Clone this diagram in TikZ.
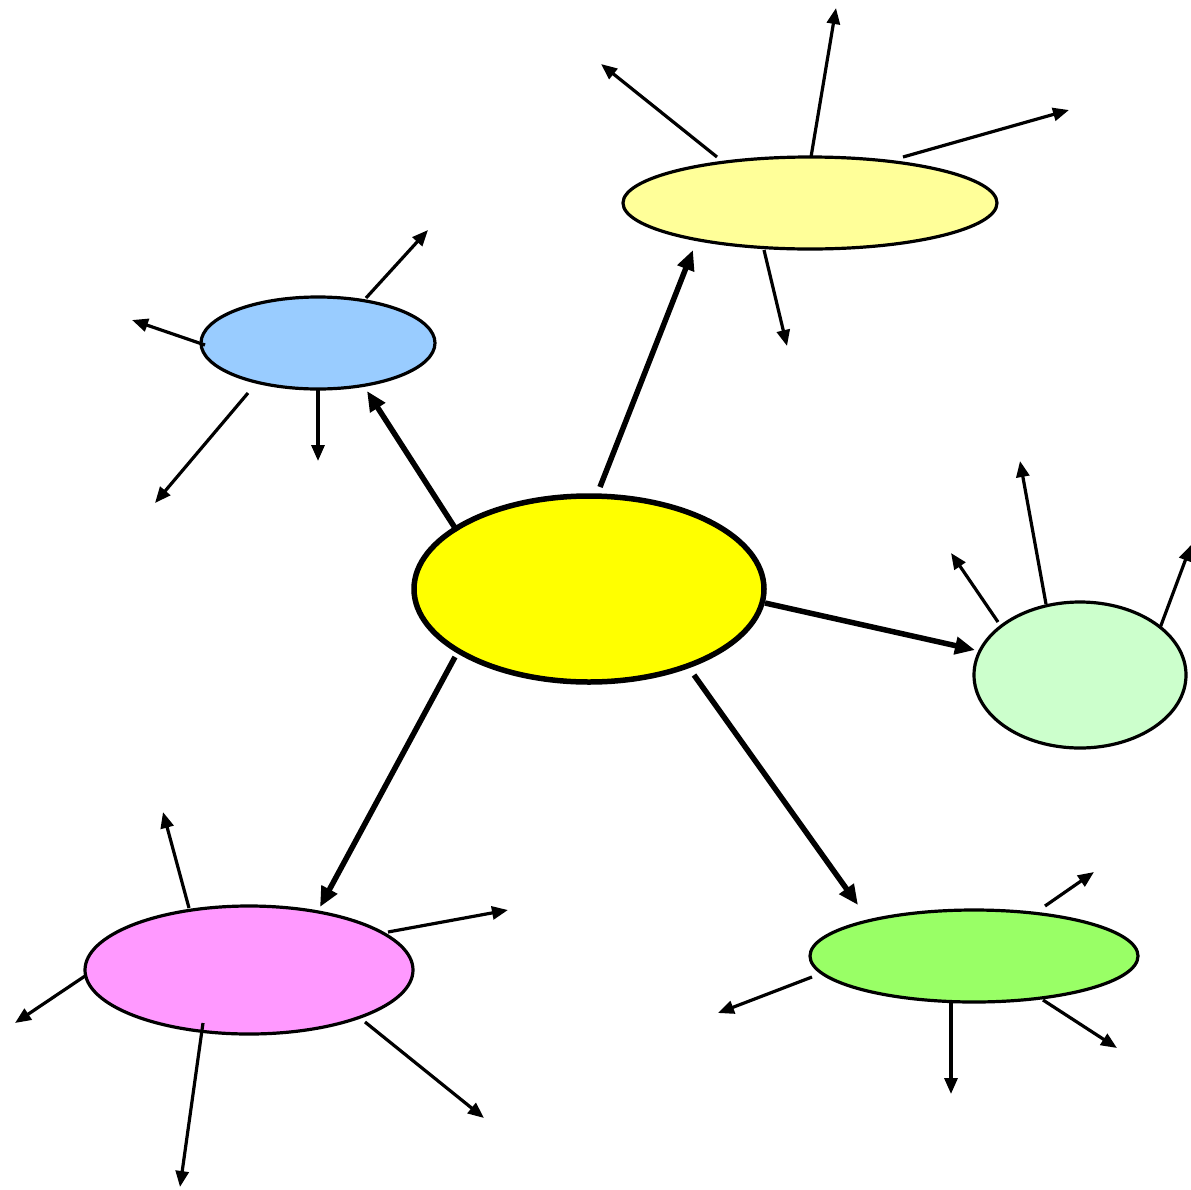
\documentclass[tikz,border=0pt]{standalone}
\usetikzlibrary{shapes.geometric,arrows.meta,calc}
\definecolor{cyel}{HTML}{FFFF00}
\definecolor{lyel}{HTML}{FFFF99}
\definecolor{lblue}{HTML}{99CCFF}
\definecolor{lgreen}{HTML}{CCFFCC}
\definecolor{lpink}{HTML}{FF99FF}
\definecolor{mgreen}{HTML}{99FF66}
\tikzset{
  bubble/.style={ellipse, draw=black, line width=3.2pt, inner sep=0pt},
  bigarrow/.style={line width=5.5pt, -{Triangle[length=20pt,width=17pt]}},
  smallarrow/.style={line width=3.2pt, -{Triangle[length=16pt,width=13pt]}},
}
\begin{document}
\begin{tikzpicture}[x=1pt,y=-1pt]
\useasboundingbox (0,0) rectangle (1191,1189);
\clip (0,0) rectangle (1191,1189);
\fill[white] (0,0) rectangle (1191,1189);
% nodes
\node[bubble, line width=5.5pt, fill=cyel, minimum width=350pt, minimum height=186pt] (c) at (589,589) {};
\node[bubble, fill=lyel, minimum width=374pt, minimum height=92pt] (y) at (810,203) {};
\node[bubble, fill=lblue, minimum width=234pt, minimum height=92pt] (b) at (318,343) {};
\node[bubble, fill=lgreen, minimum width=212pt, minimum height=146pt] (g) at (1080,675) {};
\node[bubble, fill=lpink, minimum width=328pt, minimum height=128pt] (p) at (249,970) {};
\node[bubble, fill=mgreen, minimum width=328pt, minimum height=92pt] (n) at (974,956) {};
% free ends
\coordinate (y1) at (601,64);
\coordinate (y2) at (836,8);
\coordinate (y3) at (1069,110);
\coordinate (y4) at (787,346);
\coordinate (b1) at (428,230);
\coordinate (b2) at (132,320);
\coordinate (b3) at (155,503);
\coordinate (b4) at (318,461);
\coordinate (g1) at (951,553);
\coordinate (g2) at (1020,461);
\coordinate (g3) at (1191,545);
\coordinate (p1) at (163,812);
\coordinate (p2) at (508,910);
\coordinate (p3) at (15,1023);
\coordinate (p4) at (180,1187);
\coordinate (p5) at (484,1118);
\coordinate (n1) at (1094,872);
\coordinate (n2) at (718,1013);
\coordinate (n3) at (951,1094);
\coordinate (n4) at (1117,1048);
% main connectors
\draw[bigarrow] ($(c)+(-132,-58)$) -- ($(b)+(49,48)$);
\draw[bigarrow] ($(c)+(11,-102)$) -- ($(y)+(-117,47)$);
\draw[bigarrow] ($(c)+(176,14)$) -- ($(g)+(-105,-25)$);
\draw[bigarrow] ($(c)+(-134,68)$) -- ($(p)+(71,-63)$);
\draw[bigarrow] ($(c)+(105,86)$) -- ($(n)+(-116,-51)$);
% small arrows
\draw[smallarrow] ($(y)+(-93,-46)$) -- (y1);
\draw[smallarrow] ($(y)+(1,-46)$) -- (y2);
\draw[smallarrow] ($(y)+(93,-46)$) -- (y3);
\draw[smallarrow] ($(y)+(-46,47)$) -- (y4);
\draw[smallarrow] ($(b)+(48,-45)$) -- (b1);
\draw[smallarrow] ($(b)+(-113,2)$) -- (b2);
\draw[smallarrow] ($(b)+(-70,50)$) -- (b3);
\draw[smallarrow] ($(b)+(0,47)$) -- (b4);
\draw[smallarrow] ($(g)+(-82,-53)$) -- (g1);
\draw[smallarrow] ($(g)+(-34,-71)$) -- (g2);
\draw[smallarrow] ($(g)+(80,-47)$) -- (g3);
\draw[smallarrow] ($(p)+(-60,-62)$) -- (p1);
\draw[smallarrow] ($(p)+(139,-38)$) -- (p2);
\draw[smallarrow] ($(p)+(-164,6)$) -- (p3);
\draw[smallarrow] ($(p)+(-46,53)$) -- (p4);
\draw[smallarrow] ($(p)+(116,52)$) -- (p5);
\draw[smallarrow] ($(n)+(71,-50)$) -- (n1);
\draw[smallarrow] ($(n)+(-162,21)$) -- (n2);
\draw[smallarrow] ($(n)+(-23,44)$) -- (n3);
\draw[smallarrow] ($(n)+(69,44)$) -- (n4);
\end{tikzpicture}
\end{document}
